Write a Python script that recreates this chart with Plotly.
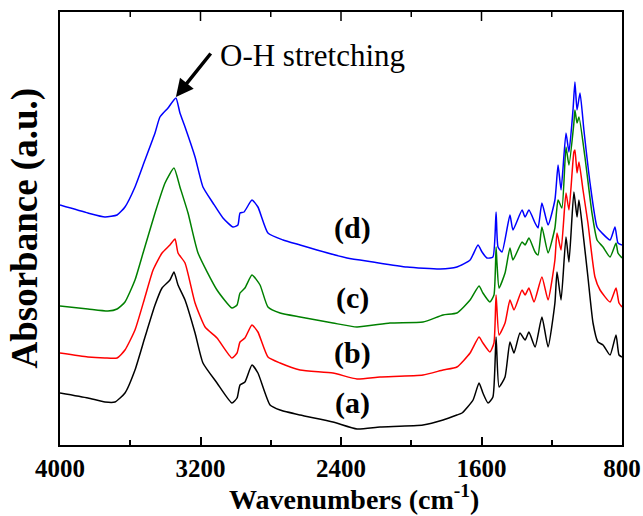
import plotly.graph_objects as go

# ---- data (wavenumber cm^-1, absorbance a.u.) ----
wn_a = [4000, 3841, 3744, 3687, 3630, 3573, 3516, 3459, 3419, 3374, 3351, 3328, 3288, 3231, 3186, 3106,
        3021, 2992, 2975, 2947, 2907, 2873, 2804, 2747, 2633, 2446, 2309, 2178, 1933, 1819, 1740, 1711,
        1648, 1614, 1592, 1563, 1535, 1517, 1500, 1466, 1438, 1415, 1381, 1352, 1330, 1295, 1256, 1221,
        1182, 1170, 1147, 1119, 1102, 1074, 1056, 1045, 1022, 994, 965, 937, 908, 868, 834, 817, 800]
abs_a = [0.52, 0.47, 0.43, 0.43, 0.52, 0.75, 1.08, 1.40, 1.57, 1.65, 1.73, 1.60, 1.45, 1.12, 0.82, 0.62,
         0.42, 0.47, 0.60, 0.63, 0.80, 0.72, 0.40, 0.35, 0.30, 0.23, 0.16, 0.18, 0.20, 0.25, 0.30, 0.32,
         0.45, 0.62, 0.52, 0.42, 0.48, 1.08, 0.58, 0.68, 1.03, 0.92, 1.12, 1.05, 1.13, 0.98, 1.28, 0.98,
         1.42, 1.73, 1.45, 2.08, 1.83, 2.53, 2.28, 2.45, 2.12, 1.68, 1.22, 1.03, 1.00, 0.90, 1.10, 0.90, 0.88]

wn_b = [4000, 3841, 3744, 3675, 3630, 3573, 3516, 3470, 3419, 3374, 3345, 3328, 3288, 3231, 3174, 3106,
        3021, 2992, 2975, 2947, 2907, 2873, 2816, 2747, 2633, 2446, 2309, 2178, 1933, 1819, 1740, 1665,
        1614, 1592, 1552, 1529, 1517, 1500, 1466, 1438, 1415, 1369, 1352, 1330, 1301, 1256, 1221, 1182,
        1170, 1147, 1119, 1102, 1074, 1068, 1056, 1045, 1022, 994, 954, 925, 868, 834, 817, 800]
abs_b = [0.92, 0.88, 0.87, 0.87, 0.95, 1.15, 1.48, 1.75, 1.92, 2.00, 2.06, 1.92, 1.82, 1.42, 1.18, 1.07,
         0.87, 0.92, 1.03, 1.07, 1.20, 1.13, 0.88, 0.82, 0.75, 0.72, 0.66, 0.68, 0.70, 0.75, 0.78, 0.92,
         1.08, 1.02, 0.93, 1.02, 1.50, 1.10, 1.22, 1.45, 1.35, 1.55, 1.50, 1.57, 1.43, 1.68, 1.45, 1.85,
         2.12, 1.95, 2.52, 2.35, 2.93, 2.95, 2.72, 2.83, 2.55, 2.22, 1.68, 1.55, 1.43, 1.57, 1.42, 1.38]

wn_c = [4000, 3841, 3727, 3675, 3630, 3573, 3527, 3459, 3402, 3351, 3317, 3271, 3214, 3106, 3021, 2992,
        2975, 2947, 2907, 2861, 2816, 2747, 2633, 2446, 2309, 2121, 1933, 1819, 1740, 1665, 1614, 1592,
        1552, 1529, 1517, 1512, 1500, 1466, 1438, 1421, 1369, 1352, 1330, 1295, 1278, 1256, 1221, 1182,
        1164, 1142, 1119, 1102, 1074, 1068, 1056, 1045, 1011, 971, 942, 908, 868, 834, 823, 800]
abs_c = [1.39, 1.36, 1.34, 1.36, 1.43, 1.65, 1.92, 2.32, 2.62, 2.77, 2.58, 2.32, 1.92, 1.55, 1.37, 1.40,
         1.52, 1.57, 1.70, 1.60, 1.38, 1.32, 1.28, 1.22, 1.18, 1.22, 1.23, 1.30, 1.32, 1.45, 1.59, 1.52,
         1.43, 1.50, 1.98, 1.82, 1.57, 1.72, 1.97, 1.85, 2.03, 2.00, 2.07, 1.93, 1.90, 2.18, 1.92, 2.17,
         2.45, 2.37, 2.98, 2.80, 3.22, 3.35, 3.22, 3.28, 2.88, 2.32, 2.05, 1.98, 1.88, 2.02, 1.92, 1.87]

wn_d = [4000, 3841, 3744, 3675, 3630, 3573, 3516, 3459, 3431, 3385, 3340, 3317, 3288, 3231, 3186, 3129,
        3072, 3015, 2987, 2975, 2952, 2907, 2873, 2816, 2730, 2633, 2537, 2366, 2218, 2024, 1836, 1740,
        1665, 1620, 1597, 1569, 1535, 1517, 1506, 1483, 1438, 1421, 1369, 1352, 1330, 1295, 1278, 1256,
        1221, 1182, 1164, 1147, 1119, 1102, 1079, 1068, 1056, 1039, 1017, 982, 942, 914, 868, 840, 823, 800]
abs_d = [2.40, 2.32, 2.28, 2.30, 2.38, 2.58, 2.85, 3.12, 3.28, 3.37, 3.47, 3.32, 3.18, 2.88, 2.58, 2.42,
         2.27, 2.18, 2.20, 2.32, 2.33, 2.45, 2.38, 2.12, 2.05, 2.00, 1.95, 1.87, 1.83, 1.78, 1.76, 1.78,
         1.85, 2.00, 1.93, 1.87, 1.88, 2.33, 1.98, 1.93, 2.30, 2.15, 2.35, 2.28, 2.35, 2.22, 2.17, 2.42,
         2.20, 2.45, 2.80, 2.55, 3.12, 2.93, 3.35, 3.63, 3.35, 3.52, 3.15, 2.62, 2.18, 2.12, 2.05, 2.18, 2.02, 2.00]

series_names = ["(a)", "(b)", "(c)", "(d)"]
series_wn = [wn_a, wn_b, wn_c, wn_d]
series_abs = [abs_a, abs_b, abs_c, abs_d]
series_colors = ["#000000", "#FF0000", "#008000", "#0000FF"]
label_y = [0.42, 0.92, 1.47, 2.17]
label_x = 2337

x_ticks = [4000, 3200, 2400, 1600, 800]
x_minor_ticks = [3600, 2800, 2000, 1200]
annotation_text = "O-H stretching"
peak_wn, peak_abs = 3340, 3.48

FONT = "Liberation Serif, Times New Roman, serif"

fig = go.Figure()
for name, x, y, c in zip(series_names, series_wn, series_abs, series_colors):
    fig.add_trace(go.Scatter(x=x, y=y, mode="lines", name=name,
                             line=dict(color=c, width=1.5, shape="spline", smoothing=0.5),
                             showlegend=False))

# top (mirrored) tick marks, placed at the tick values on the x scale
PLOT_H = 433.0
for t in x_ticks[1:-1]:
    fig.add_shape(type="line", xref="x", yref="paper", x0=t, x1=t, y0=1, y1=1 - 9 / PLOT_H,
                  line=dict(color="black", width=1.5))
for t in x_minor_ticks:
    fig.add_shape(type="line", xref="x", yref="paper", x0=t, x1=t, y0=1, y1=1 - 5 / PLOT_H,
                  line=dict(color="black", width=1.5))

for name, ly in zip(series_names, label_y):
    fig.add_annotation(x=label_x, y=ly, text=name, showarrow=False,
                       font=dict(family=FONT, size=30, color="black", weight="bold"))

fig.add_annotation(x=peak_wn, y=peak_abs, ax=36, ay=-45, text="", showarrow=True,
                   arrowhead=2, arrowsize=1, arrowwidth=3.5, arrowcolor="black", standoff=0)
fig.add_annotation(x=3100, y=3.90, text=annotation_text, showarrow=False, xanchor="left",
                   font=dict(family=FONT, size=31, color="black"))

# axis titles as paper annotations
fig.add_annotation(xref="paper", yref="paper", x=0.523, y=-0.122, yanchor="middle",
                   text="Wavenumbers (cm<sup>-1</sup>)", showarrow=False,
                   font=dict(family=FONT, size=28, color="black", weight="bold"))
fig.add_annotation(xref="paper", yref="paper", x=-0.064, y=0.5, xanchor="center", yanchor="middle",
                   textangle=-90, text="Absorbance (a.u.)", showarrow=False,
                   font=dict(family=FONT, size=37, color="black", weight="bold"))

fig.update_layout(
    width=643, height=516,
    margin=dict(l=60, r=21, t=12, b=71),
    paper_bgcolor="white", plot_bgcolor="white",
    xaxis=dict(range=[4000, 800], tickvals=x_ticks, ticks="inside", ticklen=8, tickwidth=1.5,
               tickcolor="black", showline=True, linecolor="black", linewidth=2, mirror=True,
               showgrid=False, zeroline=False, automargin=False,
               minor=dict(ticks="inside", ticklen=5, tickwidth=1.5, tickcolor="black",
                          tickvals=x_minor_ticks, showgrid=False),
               tickfont=dict(family=FONT, size=25, color="black", weight="bold")),
    yaxis=dict(range=[0, 4.33], showticklabels=False, ticks="", showline=True, linecolor="black",
               linewidth=2, mirror=True, showgrid=False, zeroline=False, automargin=False),
)

fig.write_html("out.html")
